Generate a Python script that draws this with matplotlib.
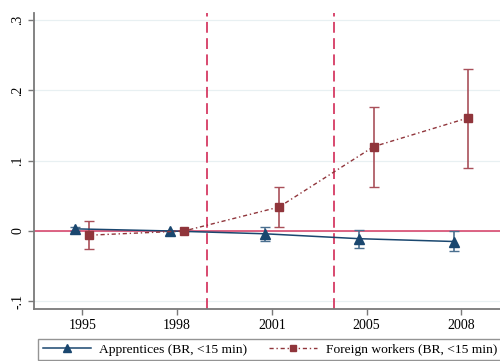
import matplotlib.pyplot as plt
from matplotlib.lines import Line2D
import numpy as np

plt.rcParams["font.family"] = ["Liberation Serif", "DejaVu Serif"]

years = ["1995", "1998", "2001", "2005", "2008"]

appr_coef = [0.003, 0.0, -0.004, -0.011, -0.015]
appr_lo = [0.000, 0.0, -0.014, -0.024, -0.029]
appr_hi = [0.006, 0.0, 0.006, 0.001, 0.000]

frgn_coef = [-0.006, 0.0, 0.034, 0.120, 0.161]
frgn_lo = [-0.026, 0.0, 0.006, 0.063, 0.090]
frgn_hi = [0.014, 0.0, 0.063, 0.177, 0.231]

policy_lines = [2.32, 3.66]

navy = "#1a476f"
maroon = "#90353b"
accent = "#d63a63"
frgn_style = (0, (3, 2, 1, 2))

fig = plt.figure(figsize=(5.0, 3.61), dpi=100)
ax = fig.add_axes([0.068, 0.144, 0.94, 0.82])

pos = np.arange(1, len(years) + 1)
shift = 0.075

ax.axhline(0, color=accent, linewidth=1.1, zorder=1)
for xv in policy_lines:
    ax.axvline(xv, color=accent, linewidth=1.3, linestyle=(0, (6, 3)), zorder=1)

a = np.array(appr_coef)
ax.errorbar(pos - shift, a,
            yerr=[a - np.array(appr_lo), np.array(appr_hi) - a],
            color=navy, ecolor="#4a6f8f", elinewidth=1.2, capsize=3.5, capthick=1.0,
            marker="^", markersize=6.5, linewidth=1.1, zorder=3)

f = np.array(frgn_coef)
ax.errorbar(pos + shift, f,
            yerr=[f - np.array(frgn_lo), np.array(frgn_hi) - f],
            color=maroon, ecolor="#a9505a", elinewidth=1.2, capsize=3.5, capthick=1.0,
            marker="s", markersize=5.5, linewidth=1.0, linestyle=frgn_style, zorder=3)

ax.set_xlim(0.49, 5.45)
ax.set_ylim(-0.111, 0.31)
ax.set_xticks(pos)
ax.set_xticklabels(years)
ax.set_yticks([-0.1, 0, 0.1, 0.2, 0.3])
ax.set_yticklabels(["-.1", "0", ".1", ".2", ".3"], rotation=90, va="center")
ax.grid(axis="y", color="#e8f0f2", linewidth=0.9)
ax.set_axisbelow(True)

for s in ["top", "right"]:
    ax.spines[s].set_visible(False)
for s in ["left", "bottom"]:
    ax.spines[s].set_color("#7a7a7a")
    ax.spines[s].set_linewidth(1.3)
ax.tick_params(colors="#7a7a7a", labelcolor="black", labelsize=10, length=4, width=1)
ax.tick_params(axis="y", pad=3)

# legend keys show line + marker only, no error bars
handles = [
    Line2D([], [], color=navy, marker="^", markersize=5.5, linewidth=1.1),
    Line2D([], [], color=maroon, marker="s", markersize=4.8, linewidth=1.0,
           linestyle=frgn_style),
]
labels = ["Apprentices (BR, <15 min)", "Foreign workers (BR, <15 min)"]
leg = fig.legend(handles, labels, loc="upper left", ncol=2, fontsize=9.7,
                 bbox_to_anchor=(0.076, 0.062), frameon=True, fancybox=False,
                 borderaxespad=0, handlelength=3.6, handletextpad=0.6,
                 columnspacing=1.6, borderpad=0.35)
leg.get_frame().set_edgecolor("#7a7a7a")
leg.get_frame().set_linewidth(1.0)

fig.savefig("out.png", dpi=100, facecolor="white")
